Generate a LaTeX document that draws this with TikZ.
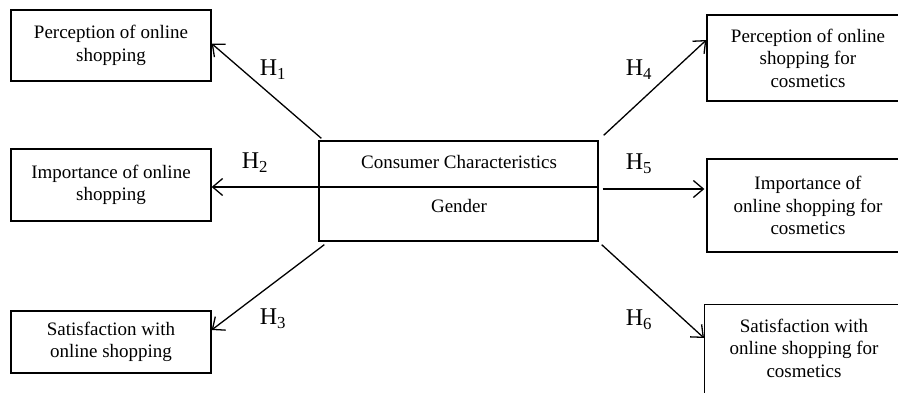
\documentclass[tikz,border=0pt]{standalone}
\usepackage{fontspec}
\setmainfont{Liberation Serif}
\usetikzlibrary{arrows.meta}
\begin{document}
\begin{tikzpicture}[x=1pt,y=-1pt,
  font=\fontsize{19}{22.5}\selectfont,
  box/.style={draw, line width=1.3pt, align=center, inner sep=0pt},
  txt/.style={align=center, inner sep=0pt},
  arr/.style={line width=1.3pt, -{Straight Barb[length=10pt,width=17pt,line width=1.3pt]}},
  hlab/.style={inner sep=0pt, font=\fontsize{24}{28}\selectfont}]
\useasboundingbox (0,0) rectangle (898,393);
\clip (0,0) rectangle (898,393);
% left boxes
\node[box, minimum width=200pt, minimum height=71pt] (l1) at (111,45.5) {Perception of online\\shopping};
\node[box, minimum width=200pt, minimum height=72pt] (l2) at (111,185) {Importance of online\\shopping};
\node[box, minimum width=200pt, minimum height=62pt] (l3) at (111,342) {Satisfaction with\\online shopping};
% right boxes (cut at the right edge)
\node[box, minimum width=202pt, minimum height=86pt] (r1) at (808,58) {Perception of online\\shopping for\\cosmetics};
\node[box, minimum width=202pt, minimum height=93pt] (r2) at (808,205.5) {Importance of\\online shopping for\\cosmetics};
\node[box, minimum width=201pt, minimum height=130pt, anchor=north west] (r3) at (704,304) {};
\node[txt] (r3t) at (804,348) {Satisfaction with\\online shopping for\\cosmetics};
% centre box
\node[box, minimum width=279pt, minimum height=100pt] (c) at (458.5,191) {};
\coordinate (cdw) at ([yshift=4pt]c.west);
\coordinate (cde) at ([yshift=4pt]c.east);
\draw[line width=1.3pt] (cdw) -- (cde);
\node[txt] (ct1) at (459,162) {Consumer Characteristics};
\node[txt] (ct2) at (459,206) {Gender};
% connectors
\draw[arr] ([shift={(3pt,2pt)}]c.north west) -- ([yshift=2pt]l1.east);
\draw[arr] (cdw) -- (cdw -| l2.east);
\draw[arr] ([shift={(6pt,-3pt)}]c.south west) -- ([yshift=12pt]l3.east);
\draw[arr] ([shift={(5pt,5pt)}]c.north east) -- ([yshift=18pt]r1.west);
\draw[arr] ([shift={(4pt,-2pt)}]cde) -- ([shift={(-2pt,-2pt)}]cde -| r2.west);
\draw[arr] ([shift={(3pt,-3pt)}]c.south east) -- ([yshift=-34pt]r3.north west);
% labels
\node[hlab] (h1) at (273,70) {H\textsubscript{1}};
\node[hlab] (h2) at (255,163) {H\textsubscript{2}};
\node[hlab] (h3) at (273,319) {H\textsubscript{3}};
\node[hlab] (h4) at (639,70) {H\textsubscript{4}};
\node[hlab] (h5) at (639,164) {H\textsubscript{5}};
\node[hlab] (h6) at (639,320) {H\textsubscript{6}};
\end{tikzpicture}
\end{document}
